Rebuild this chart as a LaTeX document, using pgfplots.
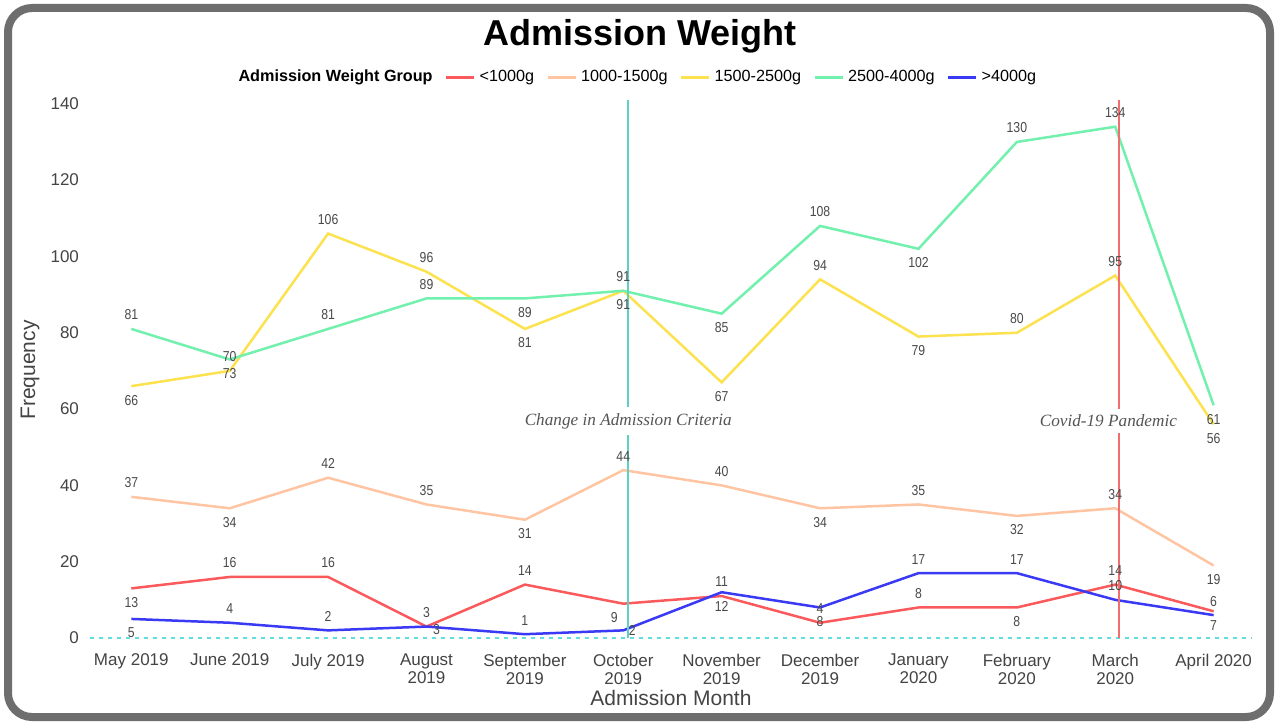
\documentclass[border=0pt]{standalone}
\usepackage{fontspec}
\setmainfont{Liberation Sans}
\newfontfamily\lblfont{Liberation Sans}[FakeStretch=0.85]
\newfontfamily\annfont{Liberation Serif}
\usepackage{pgfplots}
\pgfplotsset{compat=1.18}
\pgfplotsset{/pgf/number format/assume math mode=true}

\definecolor{cRed}{HTML}{FA5A5C}
\definecolor{cPeach}{HTML}{FFC5A3}
\definecolor{cYellow}{HTML}{FDE24F}
\definecolor{cGreen}{HTML}{72F0AE}
\definecolor{cBlue}{HTML}{3A3AF5}
\definecolor{vTeal}{HTML}{60CFC4}
\definecolor{vRed}{HTML}{F26D6D}
\definecolor{dotc}{HTML}{5EE0E0}
\definecolor{tickgray}{HTML}{444444}
\definecolor{lbltext}{HTML}{4A4A4A}
\definecolor{anngray}{HTML}{555555}
\definecolor{frame}{HTML}{6E6E6E}

% columns: x = month index, y = count, p = label above(1)/below(-1), dx = label shift (px)
\pgfplotstableread{
x y p dx
0 13 -1 0
1 16 1 0
2 16 1 0
3 3 1 0
4 14 1 0
5 9 -1 -9
6 11 1 0
7 4 1 0
8 8 1 0
9 8 -1 0
10 14 1 0
11 7 -1 0
}\tabRed
\pgfplotstableread{
x y p dx
0 37 1 0
1 34 -1 0
2 42 1 0
3 35 1 0
4 31 -1 0
5 44 1 0
6 40 1 0
7 34 -1 0
8 35 1 0
9 32 -1 0
10 34 1 0
11 19 -1 0
}\tabPeach
\pgfplotstableread{
x y p dx
0 66 -1 0
1 70 1 0
2 106 1 0
3 96 1 0
4 81 -1 0
5 91 -1 0
6 67 -1 0
7 94 1 0
8 79 -1 0
9 80 1 0
10 95 1 0
11 56 -1 0
}\tabYellow
\pgfplotstableread{
x y p dx
0 81 1 0
1 73 -1 0
2 81 1 0
3 89 1 0
4 89 -1 0
5 91 1 0
6 85 -1 0
7 108 1 0
8 102 -1 0
9 130 1 0
10 134 1 0
11 61 -1 0
}\tabGreen
\pgfplotstableread{
x y p dx
0 5 -1 0
1 4 1 0
2 2 1 0
3 3 -0.2 10
4 1 1 0
5 2 0 9
6 12 -1 0
7 8 -1 0
8 17 1 0
9 17 1 0
10 10 1 0
11 6 1 0
}\tabBlue

\pgfplotsset{
  lbl/.style={
    nodes near coords,
    visualization depends on={\thisrow{p}\as\lp},
    visualization depends on={\thisrow{dx}\as\ldx},
    every node near coord/.append style={anchor=center, yshift=\lp*7pt,
      xshift=\ldx*0.5pt, inner sep=0pt, text=lbltext,
      font=\lblfont\fontsize{7.2}{8}\selectfont},
  },
}

\begin{document}
\begin{tikzpicture}
\useasboundingbox (0,0) rectangle (638.5pt,362pt);
\path[fill=white] (0,0) rectangle (638.5pt,362pt);
\draw[line width=4pt, color=frame, rounded corners=12pt] (4pt,3.5pt) rectangle (635pt,358pt);
\node[font=\bfseries\fontsize{18}{20}\selectfont] at (320pt,344pt) {Admission Weight};

\begin{axis}[
  at={(45pt,43pt)}, anchor=south west,
  scale only axis, width=581pt, height=269pt,
  xmin=-0.42, xmax=11.39, ymin=0, ymax=141,
  clip=false,
  axis line style={draw=none},
  major tick length=0pt,
  xtick={0,...,11},
  xticklabels={May 2019, June 2019, July 2019, {August\\2019}, {September\\2019},
    {October\\2019}, {November\\2019}, {December\\2019}, {January\\2020},
    {February\\2020}, {March\\2020}, April 2020},
  ytick={0,20,...,140},
  tick label style={font=\fontsize{8.5}{9}\selectfont, text=tickgray},
  xticklabel style={align=center, yshift=-4.5pt},
  yticklabel style={xshift=-2pt},
  xlabel={Admission Month}, ylabel={Frequency},
  label style={font=\fontsize{10.5}{12}\selectfont, text=tickgray},
  xlabel style={at={(axis description cs:0.5,-0.1115)}, anchor=center},
  ylabel style={at={(axis description cs:-0.0516,0.498)}, anchor=center},
  legend style={at={(axis description cs:0.471,1.042)}, anchor=center,
    draw=none, fill=none, inner sep=0pt,
    font=\fontsize{8.1}{10}\selectfont,
    /tikz/every even column/.append style={column sep=4pt}},
  legend columns=-1,
  legend image code/.code={\draw[#1, line width=1.5pt] (0pt,0pt) -- (14pt,0pt);},
]
\addlegendimage{empty legend}
\addlegendentry{\textbf{Admission Weight Group}}

\addplot[forget plot, color=dotc, line width=1.3pt, dash pattern=on 2pt off 2.5pt]
  coordinates {(-0.42,0) (11.39,0)};

\addplot[color=cRed, line width=1.25pt, lbl] table[x=x, y=y, meta=y] {\tabRed};
\addlegendentry{<1000g}
\addplot[color=cPeach, line width=1.25pt, lbl] table[x=x, y=y, meta=y] {\tabPeach};
\addlegendentry{1000-1500g}
\addplot[color=cYellow, line width=1.25pt, lbl] table[x=x, y=y, meta=y] {\tabYellow};
\addlegendentry{1500-2500g}
\addplot[color=cGreen, line width=1.25pt, lbl] table[x=x, y=y, meta=y] {\tabGreen};
\addlegendentry{2500-4000g}
\addplot[color=cBlue, line width=1.25pt, lbl] table[x=x, y=y, meta=y] {\tabBlue};
\addlegendentry{>4000g}

\addplot[forget plot, color=vTeal, line width=1.1pt] coordinates {(5.05,0) (5.05,141)};
\addplot[forget plot, color=vRed, line width=1.1pt] coordinates {(10.04,0) (10.04,141)};

\node[fill=white, inner xsep=1pt, inner ysep=3pt, text=anngray,
  font=\annfont\itshape\fontsize{8.6}{10}\selectfont] at (axis cs:5.05,56.9)
  {Change in Admission Criteria};
\node[fill=white, inner xsep=1pt, inner ysep=3pt, text=anngray,
  font=\annfont\itshape\fontsize{8.6}{10}\selectfont] at (axis cs:9.93,56.9)
  {Covid-19 Pandemic};
\end{axis}
\end{tikzpicture}
\end{document}
